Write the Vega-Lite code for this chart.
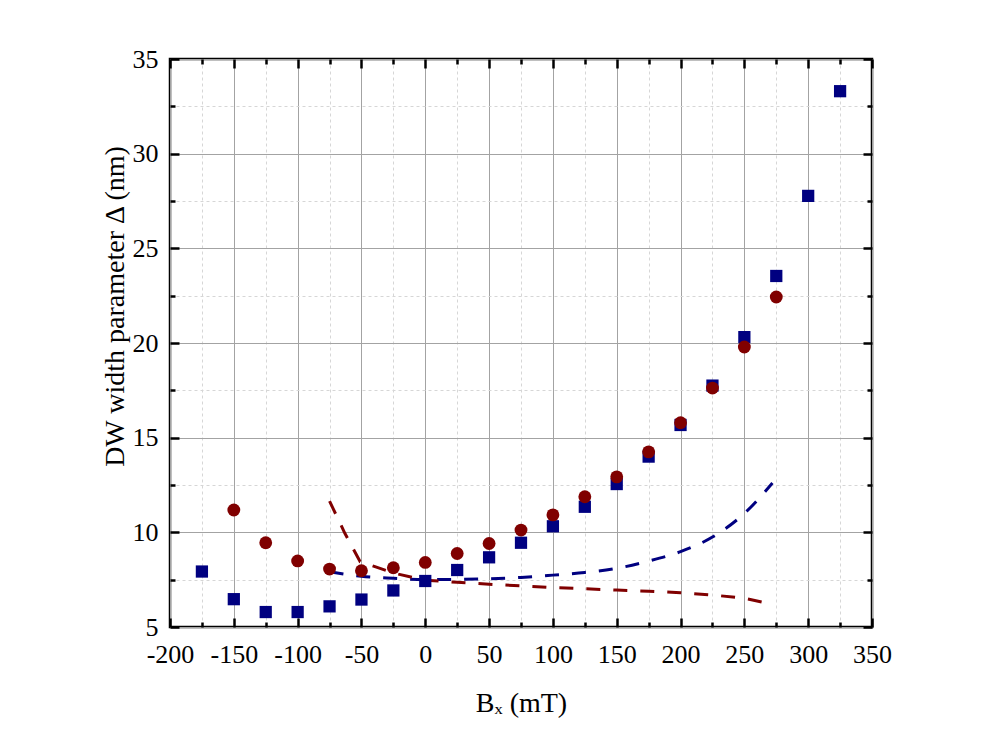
{
  "$schema": "https://vega.github.io/schema/vega-lite/v6.json",
  "width": 702,
  "height": 568,
  "autosize": "none",
  "padding": {"left": 170, "top": 59, "right": 128, "bottom": 117},
  "background": "white",
  "config": {
    "view": {"stroke": "black", "strokeWidth": 2.5},
    "axis": {
      "labelFont": "Liberation Serif",
      "labelFontSize": 26,
      "labelColor": "black",
      "labelFlush": false,
      "labelOverlap": false,
      "titleFont": "Liberation Serif",
      "titleFontSize": 28,
      "titleFontWeight": "normal",
      "titleColor": "black",
      "domain": false,
      "tickColor": "black",
      "tickWidth": 2.5
    }
  },
  "datasets": {
    "squares": [
      {"bx": -175, "d": 7.93}, {"bx": -150, "d": 6.47}, {"bx": -125, "d": 5.79},
      {"bx": -100, "d": 5.79}, {"bx": -75, "d": 6.09}, {"bx": -50, "d": 6.45},
      {"bx": -25, "d": 6.93}, {"bx": 0, "d": 7.43}, {"bx": 25, "d": 8.01},
      {"bx": 50, "d": 8.68}, {"bx": 75, "d": 9.45}, {"bx": 100, "d": 10.32},
      {"bx": 125, "d": 11.35}, {"bx": 150, "d": 12.55}, {"bx": 175, "d": 14.0},
      {"bx": 200, "d": 15.67}, {"bx": 225, "d": 17.75}, {"bx": 250, "d": 20.31},
      {"bx": 275, "d": 23.54}, {"bx": 300, "d": 27.77}, {"bx": 325, "d": 33.3}
    ],
    "circles": [
      {"bx": -150, "d": 11.18}, {"bx": -125, "d": 9.45}, {"bx": -100, "d": 8.49},
      {"bx": -75, "d": 8.06}, {"bx": -50, "d": 7.97}, {"bx": -25, "d": 8.13},
      {"bx": 0, "d": 8.41}, {"bx": 25, "d": 8.88}, {"bx": 50, "d": 9.41},
      {"bx": 75, "d": 10.12}, {"bx": 100, "d": 10.92}, {"bx": 125, "d": 11.88},
      {"bx": 150, "d": 12.93}, {"bx": 175, "d": 14.25}, {"bx": 200, "d": 15.79},
      {"bx": 225, "d": 17.62}, {"bx": 250, "d": 19.79}, {"bx": 275, "d": 22.43}
    ],
    "blueFit": [
      {"bx": -75, "d": 7.92}, {"bx": -50, "d": 7.68}, {"bx": -25, "d": 7.57},
      {"bx": 0, "d": 7.5}, {"bx": 25, "d": 7.52}, {"bx": 50, "d": 7.55},
      {"bx": 75, "d": 7.62}, {"bx": 100, "d": 7.74}, {"bx": 125, "d": 7.88},
      {"bx": 150, "d": 8.1}, {"bx": 175, "d": 8.48}, {"bx": 200, "d": 8.98},
      {"bx": 225, "d": 9.75}, {"bx": 250, "d": 11.0}, {"bx": 272, "d": 12.6}
    ],
    "redFit": [
      {"bx": -75, "d": 11.65}, {"bx": -63, "d": 9.95}, {"bx": -51, "d": 8.45},
      {"bx": -40, "d": 8.2}, {"bx": -25, "d": 7.85}, {"bx": 0, "d": 7.47},
      {"bx": 25, "d": 7.36}, {"bx": 50, "d": 7.26}, {"bx": 75, "d": 7.17},
      {"bx": 100, "d": 7.08}, {"bx": 125, "d": 7.02}, {"bx": 150, "d": 6.95},
      {"bx": 175, "d": 6.89}, {"bx": 200, "d": 6.81}, {"bx": 225, "d": 6.69},
      {"bx": 250, "d": 6.52}, {"bx": 265, "d": 6.3}
    ]
  },
  "resolve": {"axis": {"x": "independent", "y": "independent"}},
  "layer": [
    {
      "data": {"name": "blueFit"},
      "mark": {"type": "line", "color": "#000080", "strokeWidth": 3, "strokeDash": [14, 13], "interpolate": "monotone"},
      "encoding": {
        "x": {"field": "bx", "type": "quantitative", "scale": {"domain": [-200, 350], "nice": false},
          "axis": {"orient": "top", "values": [-200, -150, -100, -50, 0, 50, 100, 150, 200, 250, 300, 350],
            "offset": -9, "tickSize": 9, "labels": false, "grid": false, "title": null}},
        "y": {"field": "d", "type": "quantitative", "scale": {"domain": [5, 35], "nice": false, "zero": false},
          "axis": {"orient": "right", "values": [5, 10, 15, 20, 25, 30, 35],
            "offset": -9, "tickSize": 9, "labels": false, "grid": false, "title": null}}
      }
    },
    {
      "data": {"name": "blueFit"},
      "mark": {"type": "line", "strokeOpacity": 0},
      "encoding": {
        "x": {"field": "bx", "type": "quantitative",
          "axis": {"orient": "top", "values": [-175, -125, -75, -25, 25, 75, 125, 175, 225, 275, 325],
            "offset": -5, "tickSize": 5, "labels": false, "grid": false, "title": null}},
        "y": {"field": "d", "type": "quantitative",
          "axis": {"orient": "right", "values": [7.5, 12.5, 17.5, 22.5, 27.5, 32.5],
            "offset": -5, "tickSize": 5, "labels": false, "grid": false, "title": null}}
      }
    },
    {
      "data": {"name": "redFit"},
      "mark": {"type": "line", "color": "#800000", "strokeWidth": 3, "strokeDash": [14, 13]},
      "encoding": {
        "x": {"field": "bx", "type": "quantitative",
          "axis": {"orient": "bottom", "values": [-200, -150, -100, -50, 0, 50, 100, 150, 200, 250, 300, 350],
            "offset": -9, "tickSize": 9, "labels": false, "grid": false, "title": null}},
        "y": {"field": "d", "type": "quantitative",
          "axis": {"orient": "left", "values": [5, 10, 15, 20, 25, 30, 35],
            "offset": -9, "tickSize": 9, "labels": false, "grid": false, "title": null}}
      }
    },
    {
      "data": {"name": "squares"},
      "mark": {"type": "point", "shape": "square", "filled": true, "size": 150, "color": "#000080", "opacity": 1},
      "encoding": {
        "x": {"field": "bx", "type": "quantitative",
          "axis": {
            "orient": "bottom",
            "values": [-200, -175, -150, -125, -100, -75, -50, -25, 0, 25, 50, 75, 100, 125, 150, 175, 200, 225, 250, 275, 300, 325, 350],
            "labelExpr": "datum.value % 50 === 0 ? '' + datum.value : ''",
            "ticks": false,
            "tickSize": 0,
            "labelPadding": 14,
            "grid": true,
            "gridColor": {"condition": {"test": "datum.value % 50 !== 0", "value": "#d6d6d6"}, "value": "#a3a3a3"},
            "gridDash": {"condition": {"test": "datum.value % 50 !== 0", "value": [3, 3]}, "value": []},
            "title": "Bₓ (mT)",
            "titleX": 351,
            "titleY": 84,
            "titleBaseline": "alphabetic",
            "titleAlign": "center"
          }},
        "y": {"field": "d", "type": "quantitative",
          "axis": {
            "orient": "left",
            "values": [5, 7.5, 10, 12.5, 15, 17.5, 20, 22.5, 25, 27.5, 30, 32.5, 35],
            "labelExpr": "datum.value % 5 === 0 ? '' + datum.value : ''",
            "ticks": false,
            "tickSize": 0,
            "labelPadding": 12,
            "grid": true,
            "gridColor": {"condition": {"test": "datum.value % 5 !== 0", "value": "#d6d6d6"}, "value": "#a3a3a3"},
            "gridDash": {"condition": {"test": "datum.value % 5 !== 0", "value": [3, 3]}, "value": []},
            "title": "DW width parameter Δ (nm)",
            "titleAngle": -90,
            "titleX": -47,
            "titleY": 247,
            "titleBaseline": "alphabetic",
            "titleAlign": "center"
          }}
      }
    },
    {
      "data": {"name": "circles"},
      "mark": {"type": "point", "shape": "circle", "filled": true, "size": 165, "color": "#800000", "opacity": 1},
      "encoding": {
        "x": {"field": "bx", "type": "quantitative",
          "axis": {"orient": "bottom", "values": [-175, -125, -75, -25, 25, 75, 125, 175, 225, 275, 325],
            "offset": -5, "tickSize": 5, "labels": false, "grid": false, "title": null}},
        "y": {"field": "d", "type": "quantitative",
          "axis": {"orient": "left", "values": [7.5, 12.5, 17.5, 22.5, 27.5, 32.5],
            "offset": -5, "tickSize": 5, "labels": false, "grid": false, "title": null}}
      }
    }
  ]
}
